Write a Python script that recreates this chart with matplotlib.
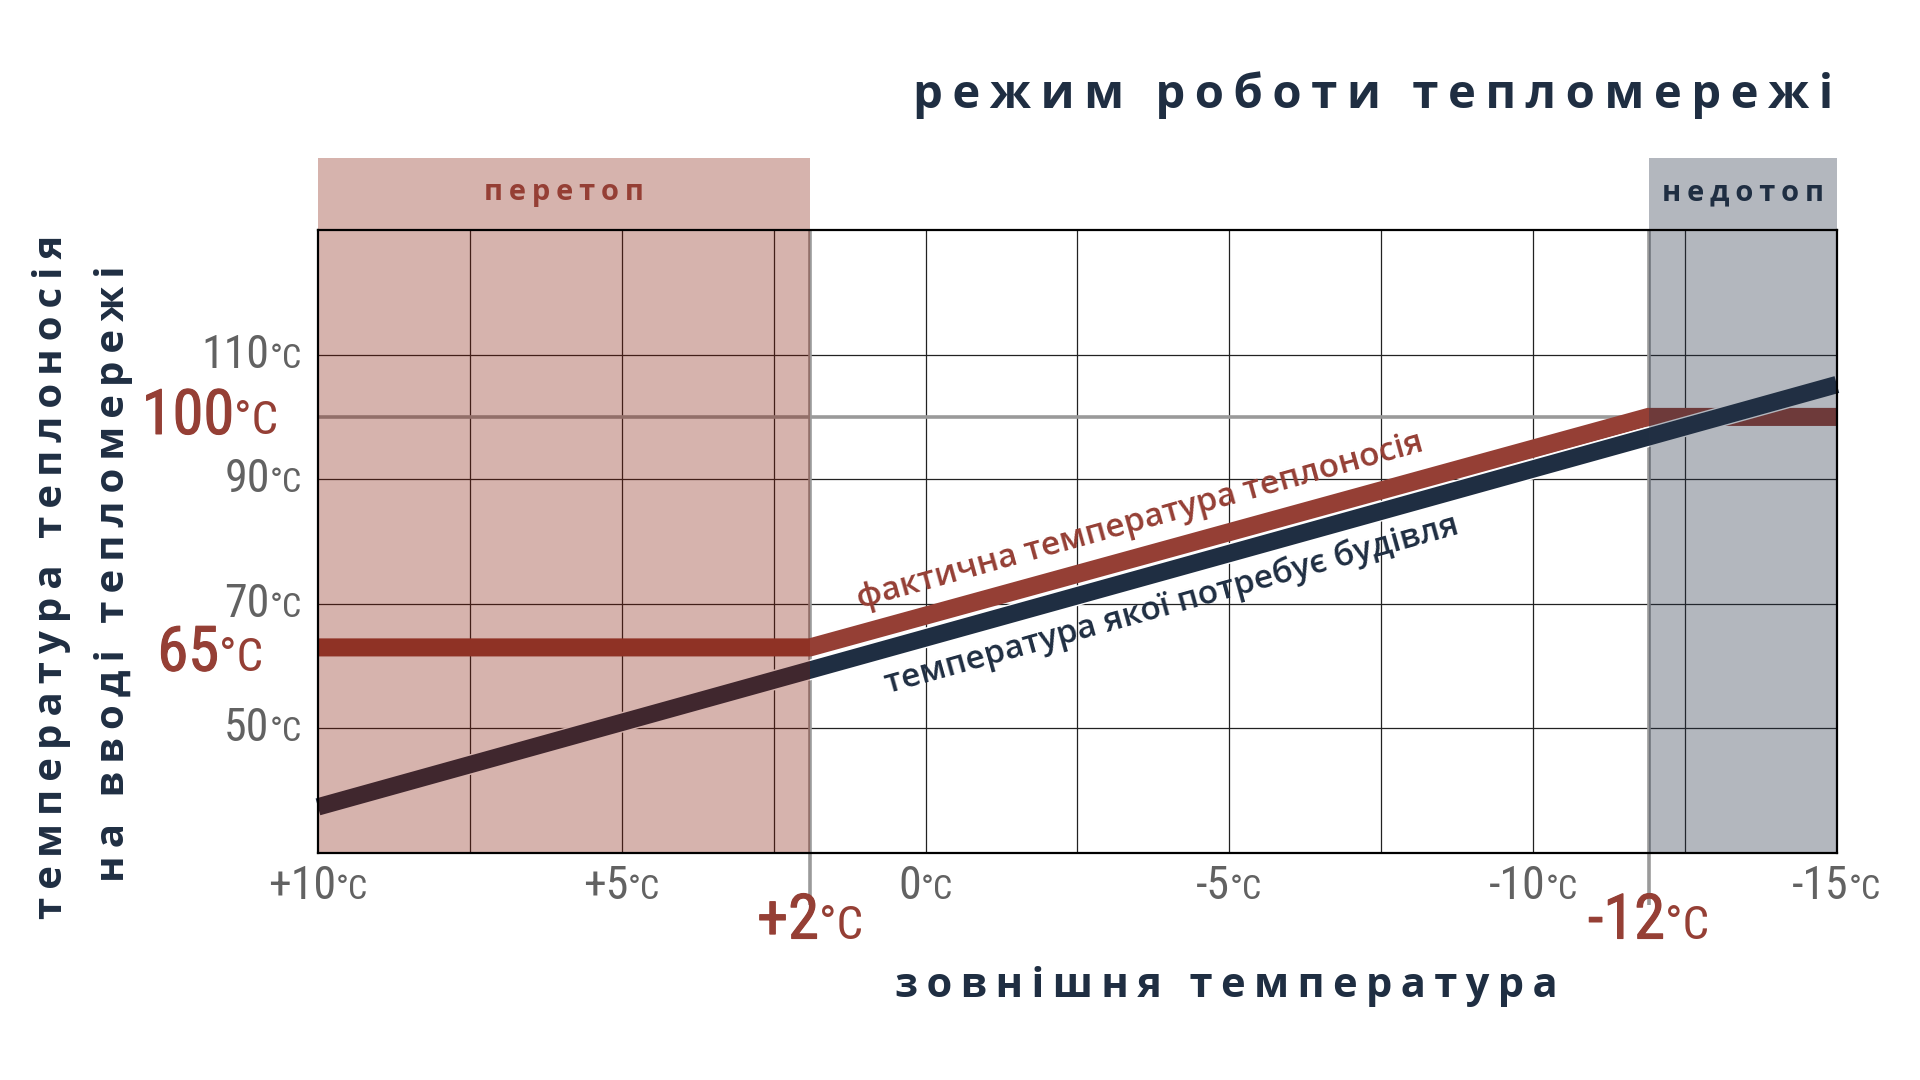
import numpy as np
import matplotlib
matplotlib.use('Agg')
import matplotlib.pyplot as plt
import matplotlib.patheffects as pe
from matplotlib import font_manager
from matplotlib.patches import Rectangle
from matplotlib.offsetbox import TextArea, HPacker, AnnotationBbox

# outdoor temperature (x) and heat-carrier temperature (y)
actual_x = [10, 1.9, -11.9, -15]
actual_t = [63, 63, 100, 100]
needed_x = [10, -15]
needed_t = [37.4, 105.2]

x_ticks = [10, 5, 0, -5, -10, -15]
x_tick_labels = ['+10', '+5', '0', '-5', '-10', '-15']
y_ticks = [50, 70, 90, 110]
y_tick_labels = ['50', '70', '90', '110']

overheat_x = [10, 1.9]       # перетоп
underheat_x = [-11.9, -15]   # недотоп
key_x = [1.9, -11.9]
key_x_labels = ['+2', '-12']
key_y = [100, 62]
key_y_labels = ['100', '65']

NAVY = '#1f2e42'
RED = '#953f35'
GRAY_TXT = '#626262'
GRAY_LN = '#9a9a9a'

installed = {f.name for f in font_manager.fontManager.ttflist}
NARROW = 'DejaVu Sans'
for cand in ['Roboto Condensed', 'Liberation Sans Narrow', 'Open Sans Condensed', 'DejaVu Sans Condensed']:
    if cand in installed:
        NARROW = cand
        break
SANS = ['Open Sans', 'DejaVu Sans']


def spaced(s, gap='\u2009'):
    return gap.join(s)


fig = plt.figure(figsize=(19.2, 10.8), dpi=100)
ax = fig.add_axes([0.1656, 0.2102, 0.7911, 0.5768])
ax.set_xlim(10, -15)
ax.set_ylim(30, 130)
ax.set_xticks([])
ax.set_yticks([])
for s in ax.spines.values():
    s.set_linewidth(1.6)
    s.set_color('black')
    s.set_zorder(6)

# grid
for gx in np.arange(7.5, -13, -2.5):
    ax.axvline(gx, color='#222222', lw=0.9, zorder=1)
for gy in y_ticks:
    ax.axhline(gy, color='#222222', lw=0.9, zorder=1)

# key lines
ax.plot([10, key_x[1]], [100, 100], color=GRAY_LN, lw=2.6, zorder=2, solid_capstyle='butt')
for kx in key_x:
    ax.plot([kx, kx], [1.0, -0.083], color=GRAY_LN, lw=2.6, zorder=2,
            transform=ax.get_xaxis_transform(), clip_on=False, solid_capstyle='butt')

# temperature lines
ax.plot(actual_x, actual_t, color=RED, lw=13, zorder=3, solid_capstyle='butt',
        solid_joinstyle='miter', clip_on=False)
ax.plot(needed_x, needed_t, color=NAVY, lw=12.5, zorder=4, solid_capstyle='butt', clip_on=False,
        path_effects=[pe.Stroke(linewidth=14.5, foreground='white'), pe.Normal()])

# zones
ax.axvspan(overheat_x[0], overheat_x[1], color='#841907', alpha=0.33, lw=0, zorder=5)
ax.axvspan(underheat_x[0], underheat_x[1], color='#263246', alpha=0.35, lw=0, zorder=5)
hdr_h = 0.1156
ax.add_patch(Rectangle((overheat_x[0], 1.0), overheat_x[1] - overheat_x[0], hdr_h,
                       transform=ax.get_xaxis_transform(), color='#841907', alpha=0.33,
                       lw=0, clip_on=False))
ax.add_patch(Rectangle((underheat_x[0], 1.0), underheat_x[1] - underheat_x[0], hdr_h,
                       transform=ax.get_xaxis_transform(), color='#263246', alpha=0.35,
                       lw=0, clip_on=False))
ax.text(np.mean(overheat_x), 1.06, spaced('перетоп'), transform=ax.get_xaxis_transform(),
        ha='center', va='center', fontsize=21, fontweight='bold', color=RED, family=SANS)
ax.text(np.mean(underheat_x), 1.06, spaced('недотоп'), transform=ax.get_xaxis_transform(),
        ha='center', va='center', fontsize=21, fontweight='bold', color=NAVY, family=SANS)


def temp_label(xy, coords, num, size, color, align, stroke=0):
    num_props = dict(fontsize=size, color=color, family=NARROW)
    if stroke:
        num_props['path_effects'] = [pe.withStroke(linewidth=stroke, foreground=color)]
    num_box = TextArea(num, textprops=num_props)
    unit_box = TextArea('°C', textprops=dict(fontsize=size * 0.75, color=color, family=NARROW))
    pack = HPacker(children=[num_box, unit_box], align='baseline', pad=0, sep=0)
    ab = AnnotationBbox(pack, xy, xycoords=coords, box_alignment=align, frameon=False,
                        annotation_clip=False, pad=0)
    ax.add_artist(ab)


for tx, tl in zip(x_ticks, x_tick_labels):
    temp_label((tx, -0.053), ax.get_xaxis_transform(), tl, 33, GRAY_TXT, (0.5, 0.5))
for ty, tl in zip(y_ticks, y_tick_labels):
    temp_label((-0.0105, ty), ax.get_yaxis_transform(), tl, 33, GRAY_TXT, (1, 0.5))
for kx, kl in zip(key_x, key_x_labels):
    temp_label((kx, -0.11), ax.get_xaxis_transform(), kl, 45, RED, (0.5, 0.5), 0.8)
temp_label((-0.026, key_y[0]), ax.get_yaxis_transform(), key_y_labels[0], 45, RED, (1, 0.5), 0.8)
temp_label((-0.036, key_y[1]), ax.get_yaxis_transform(), key_y_labels[1], 45, RED, (1, 0.5), 0.8)

# line captions
ax.text(-3.53, 83.2, 'фактична температура теплоносія', rotation=15.6, rotation_mode='anchor',
        ha='center', va='center', fontsize=24, fontweight='semibold', color=RED,
        family=SANS)
ax.text(-4.06, 69.8, 'температура якої потребує будівля', rotation=15.6, rotation_mode='anchor',
        ha='center', va='center', fontsize=24, fontweight='semibold', color=NAVY,
        family=SANS)

# titles
fig.text(0.9547, 0.912, spaced('режим роботи тепломережі'), ha='right', va='center',
         fontsize=34, fontweight='bold', color=NAVY, family=SANS)
fig.text(0.6385, 0.087, spaced('зовнішня температура'), ha='center', va='center',
         fontsize=30, fontweight='bold', color=NAVY, family=SANS)
fig.text(0.0266, 0.466, spaced('температура теплоносія'), rotation=90, ha='center', va='center',
         fontsize=29, fontweight='bold', color=NAVY, family=SANS)
fig.text(0.0589, 0.469, spaced('на вводі тепломережі'), rotation=90, ha='center', va='center',
         fontsize=29, fontweight='bold', color=NAVY, family=SANS)

fig.savefig('out.png', dpi=100)
